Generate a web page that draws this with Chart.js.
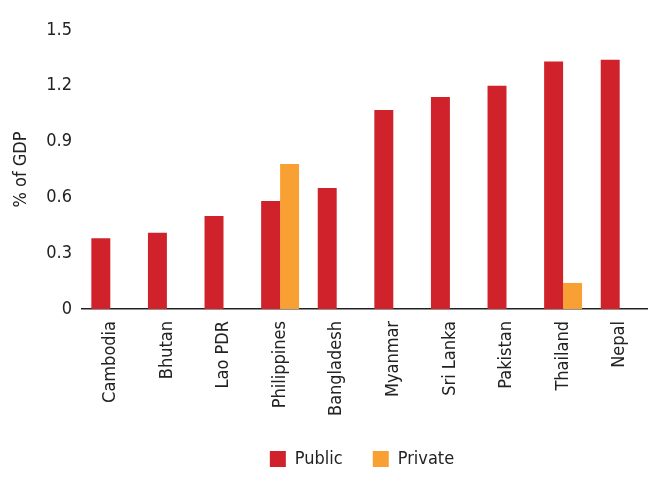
<!DOCTYPE html>
<html>
<head>
<meta charset="utf-8">
<script src="https://cdn.jsdelivr.net/npm/chart.js@4/dist/chart.umd.min.js"></script>
<style>
  html, body { margin: 0; padding: 0; background: #fff; }
  #wrap { width: 648px; height: 504px; }
</style>
</head>
<body>
<div id="wrap"><canvas id="c" width="648" height="504"></canvas></div>
<script>
const categories = ["Cambodia", "Bhutan", "Lao PDR", "Philippines", "Bangladesh", "Myanmar", "Sri Lanka", "Pakistan", "Thailand", "Nepal"];
const publicValues = [0.38, 0.41, 0.50, 0.58, 0.65, 1.07, 1.14, 1.20, 1.33, 1.34];
const privateValues = [null, null, null, 0.78, null, null, null, null, 0.14, null];
const yTickLabels = ["0", "0.3", "0.6", "0.9", "1.2", "1.5"];

const FONT = "'DejaVu Sans Condensed', 'DejaVu Sans', sans-serif";
Chart.defaults.font.family = FONT;
Chart.defaults.color = "#222";

const legendShift = {
  id: "legendShift",
  afterLayout(chart) {
    if (chart.legend) { chart.legend.left += 38; chart.legend.right += 38; }
  }
};

new Chart(document.getElementById("c"), {
  type: "bar",
  data: {
    labels: categories,
    datasets: [
      { label: "Public", data: publicValues, backgroundColor: "#CF222A", borderWidth: 0 },
      { label: "Private", data: privateValues, backgroundColor: "#F9A035", borderWidth: 0 }
    ]
  },
  plugins: [legendShift],
  options: {
    responsive: false,
    animation: false,
    events: [],
    layout: { padding: { top: 30, right: 0, bottom: 26, left: 0 } },
    datasets: { bar: { categoryPercentage: 0.67, barPercentage: 1.0 } },
    plugins: {
      tooltip: { enabled: false },
      legend: {
        position: "bottom",
        labels: {
          boxWidth: 16, boxHeight: 16, padding: 30,
          font: { size: 18, family: FONT }, color: "#222"
        }
      }
    },
    scales: {
      x: {
        grid: { display: false, drawTicks: false },
        border: { display: true, color: "#222", width: 1.5 },
        ticks: { minRotation: 90, maxRotation: 90, padding: 12, autoSkip: false, font: { size: 18 }, color: "#222" },
        afterFit: (s) => { s.height = 111; s.paddingRight = 0; s.paddingLeft = 0; }
      },
      y: {
        min: 0, max: 1.5,
        grid: { display: false, drawTicks: false },
        border: { display: false },
        ticks: {
          stepSize: 0.3, padding: 10, font: { size: 18 }, color: "#222",
          callback: (v, i) => yTickLabels[i]
        },
        title: { display: true, text: "% of GDP", font: { size: 18 }, color: "#222", padding: { top: 11, bottom: 0 } },
        afterFit: (s) => { s.width = 82; }
      }
    }
  }
});
</script>
</body>
</html>
